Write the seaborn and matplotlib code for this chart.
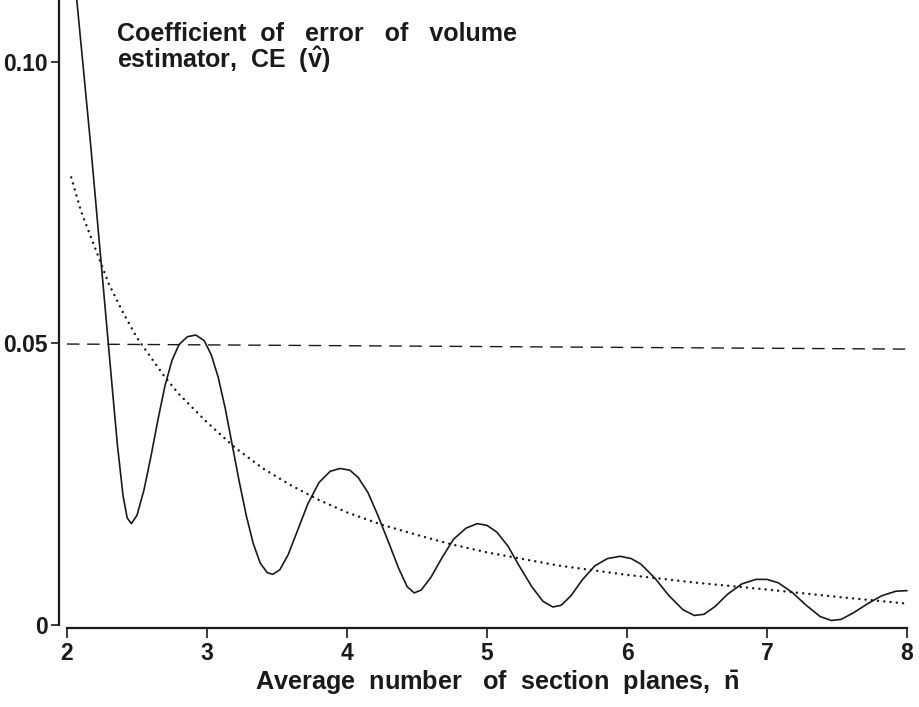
import numpy as np
import pandas as pd
import matplotlib
matplotlib.use("Agg")
import matplotlib.pyplot as plt
import seaborn as sns

# ---- data ----
solid_x = [2.03, 2.07, 2.12, 2.17, 2.22, 2.27, 2.32, 2.36, 2.40, 2.43, 2.46, 2.50, 2.55, 2.60, 2.65,
           2.70, 2.75, 2.80, 2.86, 2.92, 2.98, 3.03, 3.08, 3.13, 3.18, 3.23, 3.28, 3.33, 3.38, 3.43,
           3.47, 3.52, 3.58, 3.65, 3.72, 3.80, 3.88, 3.95, 4.02, 4.08, 4.15, 4.22, 4.30, 4.37, 4.43,
           4.48, 4.53, 4.60, 4.68, 4.76, 4.85, 4.93, 5.00, 5.07, 5.15, 5.23, 5.32, 5.40, 5.47, 5.53,
           5.60, 5.68, 5.77, 5.86, 5.95, 6.03, 6.10, 6.20, 6.30, 6.40, 6.48, 6.55, 6.63, 6.72, 6.82,
           6.92, 7.00, 7.08, 7.18, 7.28, 7.38, 7.46, 7.53, 7.62, 7.72, 7.82, 7.92, 8.00]
solid_y = [0.122, 0.111, 0.098, 0.085, 0.071, 0.057, 0.043, 0.032, 0.023, 0.0190, 0.0180, 0.0195, 0.0240, 0.030, 0.0365,
           0.0425, 0.0470, 0.0498, 0.0512, 0.0515, 0.0505, 0.0480, 0.0440, 0.0385, 0.0320, 0.0255, 0.0195, 0.0145, 0.0110, 0.0093,
           0.0090, 0.0098, 0.0125, 0.0170, 0.0215, 0.0253, 0.0273, 0.0278, 0.0275, 0.0262, 0.0235, 0.0195, 0.0145, 0.0100, 0.0068,
           0.0057, 0.0062, 0.0085, 0.0120, 0.0152, 0.0172, 0.0180, 0.0177, 0.0165, 0.0140, 0.0105, 0.0068, 0.0042, 0.0032, 0.0035,
           0.0052, 0.0080, 0.0105, 0.0118, 0.0122, 0.0118, 0.0108, 0.0083, 0.0052, 0.0027, 0.0017, 0.0019, 0.0033, 0.0055, 0.0073,
           0.0081, 0.0081, 0.0075, 0.0058, 0.0035, 0.0015, 0.0008, 0.0010, 0.0022, 0.0038, 0.0052, 0.0060, 0.0061]

dotted_x = [2.03, 2.10, 2.20, 2.30, 2.40, 2.50, 2.60, 2.70, 2.80, 2.90, 3.00, 3.20, 3.40, 3.60, 3.80,
            4.00, 4.25, 4.50, 4.75, 5.00, 5.50, 6.00, 6.50, 7.00, 7.50, 8.00]
dotted_y = [0.0795, 0.0735, 0.0670, 0.0605, 0.0555, 0.0510, 0.0475, 0.0440, 0.0410, 0.0385, 0.0360, 0.0315,
            0.0278, 0.0248, 0.0222, 0.0200, 0.0178, 0.0160, 0.0143, 0.0129, 0.0106, 0.0089, 0.0075, 0.0063,
            0.0050, 0.0038]

dashed_x = [2.0, 8.0]
dashed_y = [0.0499, 0.0490]

x_ticks = [2, 3, 4, 5, 6, 7, 8]
x_tick_labels = ["2", "3", "4", "5", "6", "7", "8"]
y_ticks = [0, 0.05, 0.10]
y_tick_labels = ["0", "0.05", "0.10"]

title_line1 = "Coefficient  of   error   of   volume"
title_line2 = r"estimator,  CE  ($\hat{\mathbf{v}}$)"
x_label = r"Average  number   of  section  planes,  $\bar{\mathbf{n}}$"

# ---- style ----
sns.set_theme(style="ticks")
plt.rcParams['font.family'] = ['Liberation Sans', 'DejaVu Sans']
plt.rcParams['mathtext.fontset'] = 'custom'
plt.rcParams['mathtext.rm'] = 'Liberation Sans:bold'
plt.rcParams['mathtext.bf'] = 'Liberation Sans:bold'
plt.rcParams['mathtext.it'] = 'Liberation Sans:bold'

W, H = 920, 707
fig = plt.figure(figsize=(W / 100, H / 100), dpi=100)
ax = fig.add_axes([59 / W, (H - 625) / H, (909.8 - 59) / W, 625 / H])

ink = "#1a1a1a"
sns.lineplot(x=solid_x, y=solid_y, ax=ax, color=ink, lw=1.2, sort=False, estimator=None)
sns.lineplot(x=dotted_x, y=dotted_y, ax=ax, color=ink, lw=1.8, sort=False, estimator=None,
             linestyle=(0, (0.01, 2.5)), dash_capstyle="round")
sns.lineplot(x=dashed_x, y=dashed_y, ax=ax, color=ink, lw=1.0, sort=False, estimator=None,
             linestyle=(0, (9, 5.5)))

ax.set_xlim(2 - 8 / 140, 8.02)
ax.set_ylim(0, 0.111)

for s in ["top", "right"]:
    ax.spines[s].set_visible(False)
ax.spines["left"].set_linewidth(1.6)
ax.spines["bottom"].set_linewidth(1.6)
ax.spines["left"].set_color(ink)
ax.spines["bottom"].set_color(ink)
ax.spines["left"].set_bounds(0, 0.111)
ax.spines["bottom"].set_bounds(2, 8)
ax.spines["bottom"].set_position(("outward", 2))

ax.set_xticks(x_ticks)
ax.set_xticklabels(x_tick_labels)
ax.set_yticks(y_ticks)
ax.set_yticklabels(y_tick_labels)
ax.tick_params(axis="both", direction="out", color=ink, width=1.2, labelcolor=ink)
ax.tick_params(axis="y", length=6, pad=2)
ax.tick_params(axis="x", length=7, pad=3)
for lab in ax.get_xticklabels() + ax.get_yticklabels():
    lab.set_fontweight("bold")
    lab.set_fontsize(16.5)

ax.set_xlabel("")
ax.set_ylabel("")
fig.text(497 / W, 1 - 690 / H, x_label, ha="center", va="baseline", fontsize=18.2,
         fontweight="bold", color=ink)

fig.text(117 / W, 1 - 41 / H, title_line1, ha="left", va="baseline", fontsize=18,
         fontweight="bold", color=ink)
fig.text(117 / W, 1 - 68 / H, title_line2, ha="left", va="baseline", fontsize=18,
         fontweight="bold", color=ink)

fig.savefig("out.png", dpi=100)
